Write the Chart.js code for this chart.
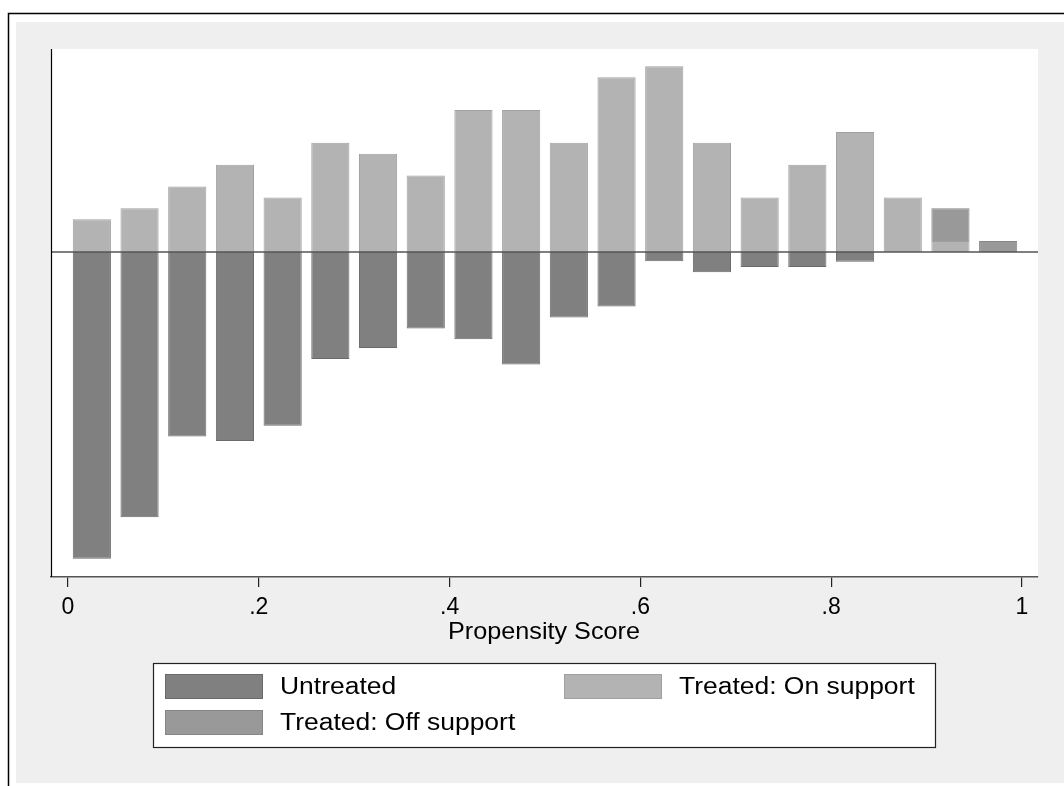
<!DOCTYPE html>
<html>
<head>
<meta charset="utf-8">
<script src="https://cdn.jsdelivr.net/npm/chart.js@4"></script>
<style>
html,body{margin:0;padding:0;background:#fff;}
#wrap{width:1064px;height:786px;position:relative;}
</style>
</head>
<body>
<div id="wrap"><canvas id="c" width="1064" height="786"></canvas></div>
<script>
// ---- data ----
const binCenters = [0.025,0.075,0.125,0.175,0.225,0.275,0.325,0.375,0.425,0.475,0.525,0.575,0.625,0.675,0.725,0.775,0.825,0.875,0.925,0.975];
const untreated = [-28.1,-24.3,-16.9,-17.3,-15.9,-9.8,-8.8,-7.0,-8.0,-10.3,-6.0,-5.0,-0.85,-1.86,-1.37,-1.37,-0.89,0,0,0];
const treatedOn = [3,4,6,8,5,10,9,7,13,13,10,16,17,10,5,8,11,5,1,0];
const treatedOff = [0,0,0,0,0,0,0,0,0,0,0,0,0,0,0,0,0,0,3,1];
const tickValues = [0,0.2,0.4,0.6,0.8,1];
const tickLabels = ["0",".2",".4",".6",".8","1"];
const seriesNames = ["Untreated","Treated: On support","Treated: Off support"];
const xTitle = "Propensity Score";

const FONT = "'Liberation Sans', Arial, sans-serif";
const toPts = arr => arr.map((v,i)=>({x:binCenters[i], y:v}));

function stretchedText(ctx, text, x, y, sx, align){
  ctx.save();
  ctx.translate(x,y);
  ctx.scale(sx,1);
  ctx.textAlign = align;
  ctx.fillText(text,0,0);
  ctx.restore();
}

const bgPlugin = {
  id:'bg',
  beforeDraw(chart){
    const ctx = chart.ctx, ca = chart.chartArea;
    ctx.save();
    ctx.fillStyle = '#ffffff';
    ctx.fillRect(0,0,chart.width,chart.height);
    ctx.fillStyle = '#efefef';
    ctx.fillRect(16,22,chart.width-16,783-22);
    ctx.fillStyle = '#ffffff';
    ctx.fillRect(ca.left,ca.top,ca.right-ca.left,ca.bottom-ca.top);
    ctx.strokeStyle = '#000';
    ctx.lineWidth = 1.5;
    ctx.beginPath();
    ctx.moveTo(8.5,chart.height); ctx.lineTo(8.5,13.5); ctx.lineTo(chart.width,13.5);
    ctx.stroke();
    ctx.restore();
  },
  afterDatasetsDraw(chart){
    const ctx = chart.ctx, ca = chart.chartArea;
    const y0 = chart.scales.y.getPixelForValue(0);
    ctx.save();
    ctx.strokeStyle = '#555555';
    ctx.lineWidth = 1.5;
    ctx.beginPath(); ctx.moveTo(ca.left,y0); ctx.lineTo(ca.right,y0); ctx.stroke();
    ctx.strokeStyle = '#000';
    ctx.lineWidth = 1.2;
    ctx.beginPath(); ctx.moveTo(ca.left+0.5,ca.top); ctx.lineTo(ca.left+0.5,ca.bottom); ctx.stroke();
    ctx.restore();
  },
  afterDraw(chart){
    const ctx = chart.ctx, ca = chart.chartArea;
    const ds = chart.data.datasets;
    ctx.save();
    // axis title
    ctx.fillStyle = '#000';
    ctx.font = '24px ' + FONT;
    ctx.textBaseline = 'middle';
    stretchedText(ctx, xTitle, (chart.scales.x.getPixelForValue(0)+chart.scales.x.getPixelForValue(1))/2 - 1, 632, 1.05, 'center');
    // legend
    ctx.fillStyle = '#fff';
    ctx.fillRect(153,663,782,84);
    ctx.strokeStyle = '#222';
    ctx.lineWidth = 1.2;
    ctx.strokeRect(153.5,663.5,782,84);
    const items = [
      {i:0, x:165, y:674},
      {i:1, x:564, y:674},
      {i:2, x:165, y:710}
    ];
    ctx.font = '23px ' + FONT;
    ctx.textBaseline = 'middle';
    items.forEach(it=>{
      const d = ds[it.i];
      ctx.fillStyle = d.backgroundColor;
      ctx.fillRect(it.x,it.y,98,25);
      ctx.strokeStyle = d.borderColor;
      ctx.lineWidth = 1;
      ctx.strokeRect(it.x+0.5,it.y+0.5,97,24);
      ctx.fillStyle = '#000';
      stretchedText(ctx, d.label, it.x+115, it.y+13.5, 1.15, 'left');
    });
    ctx.restore();
  }
};

new Chart(document.getElementById('c'), {
  type:'bar',
  data:{
    datasets:[
      {label:seriesNames[0], data:toPts(untreated), backgroundColor:'#808080', borderColor:'#6a6a6a', borderWidth:1},
      {label:seriesNames[1], data:toPts(treatedOn), backgroundColor:'#b3b3b3', borderColor:'#a0a0a0', borderWidth:1},
      {label:seriesNames[2], data:toPts(treatedOff), backgroundColor:'#999999', borderColor:'#858585', borderWidth:1}
    ]
  },
  options:{
    responsive:false,
    animation:false,
    barPercentage:0.8,
    categoryPercentage:1.0,
    layout:{padding:{left:51, top:49, right:26, bottom:139.2}},
    plugins:{legend:{display:false}, tooltip:{enabled:false}},
    scales:{
      x:{
        type:'linear',
        stacked:true,
        offset:false,
        min:-0.01782,
        max:1.01677,
        afterBuildTicks(s){ s.ticks = tickValues.map(v=>({value:v})); },
        afterFit(s){ s.height = 69.8; },
        ticks:{
          padding:7,
          color:'#000',
          font:{family:FONT,size:23},
          maxRotation:0,
          autoSkip:false,
          callback:(v,i)=>tickLabels[i]
        },
        grid:{offset:false, drawOnChartArea:false, drawTicks:true, tickLength:10, color:'#222', lineWidth:1.2},
        border:{display:true, color:'#555', width:1.5},
        title:{display:false}
      },
      y:{
        display:false,
        stacked:true,
        min:-29.76,
        max:18.59
      }
    }
  },
  plugins:[bgPlugin]
});
</script>
</body>
</html>
